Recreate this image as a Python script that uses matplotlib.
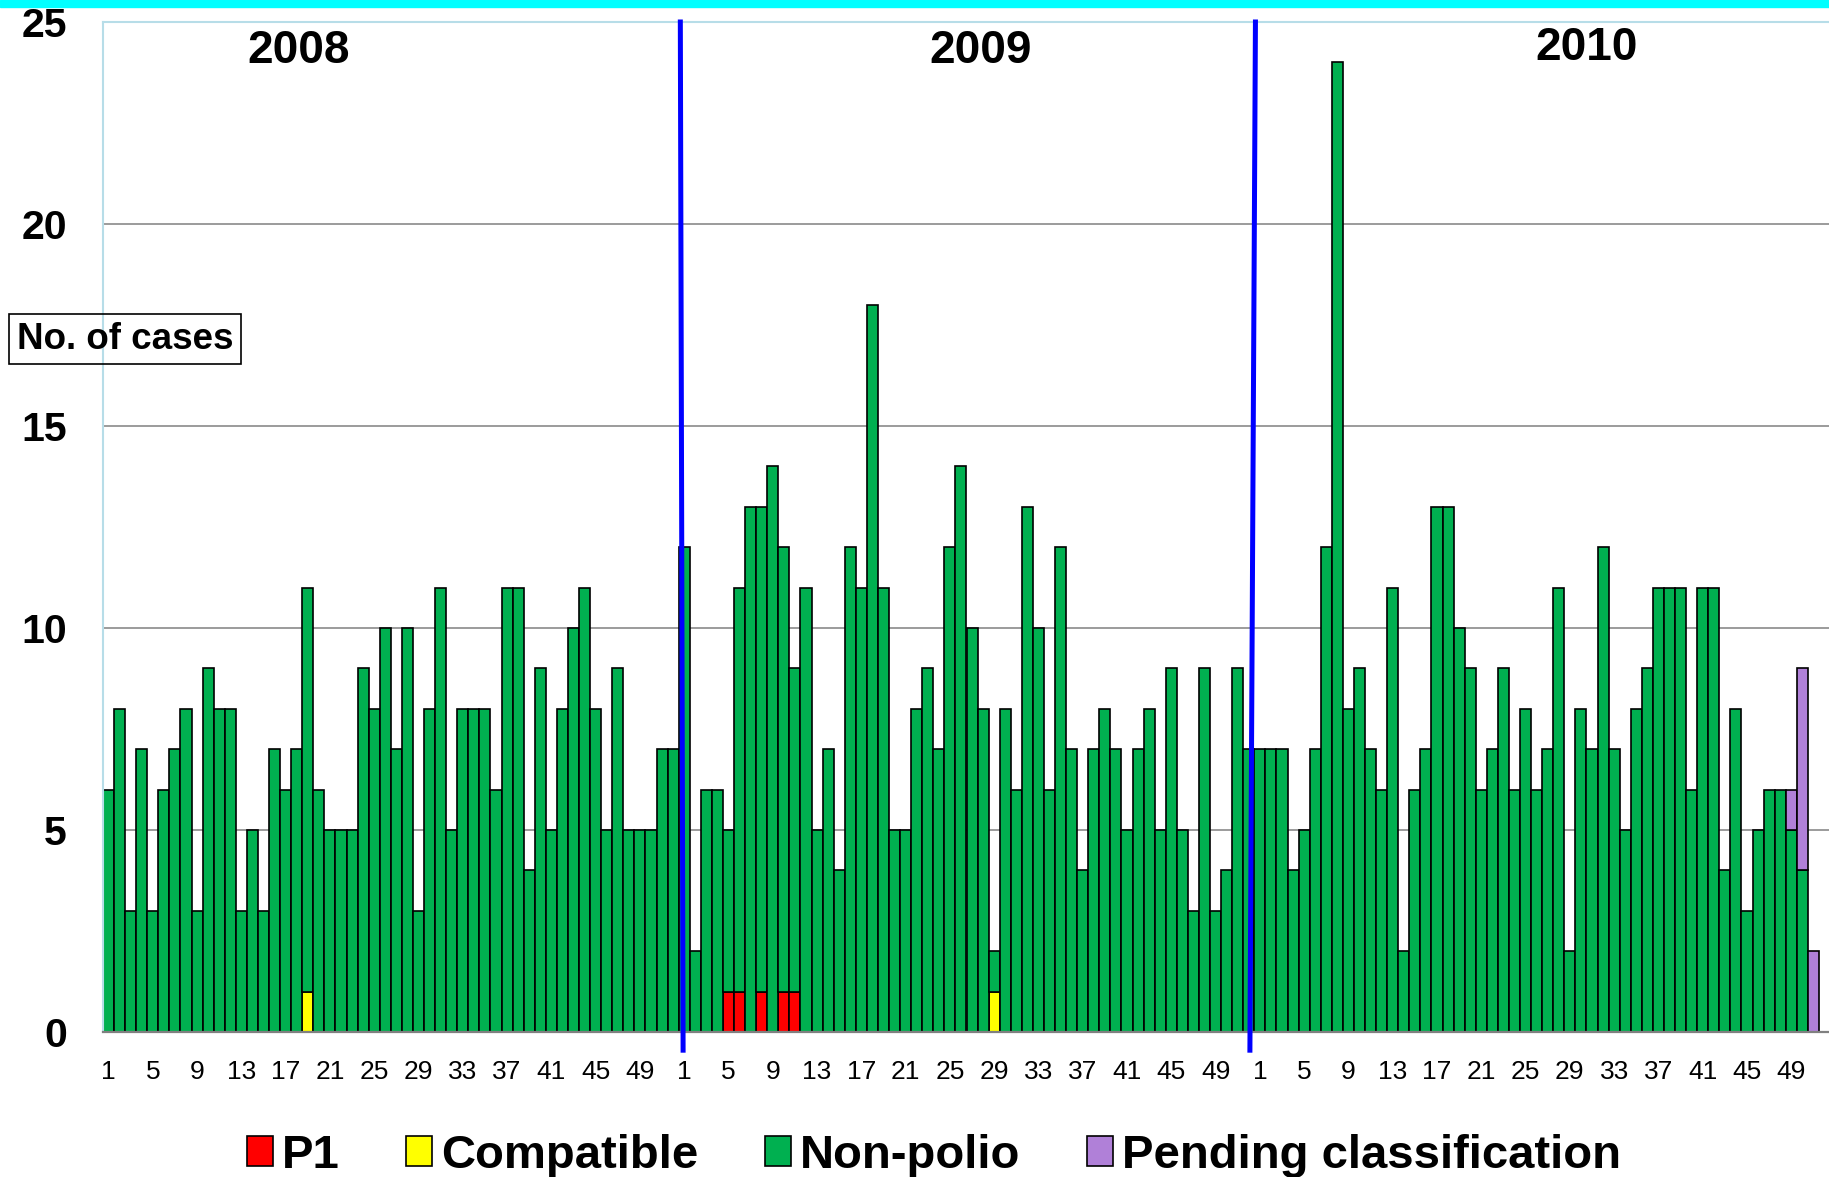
import numpy as np
import matplotlib.pyplot as plt
from matplotlib.patches import Rectangle

plt.rcParams['font.family'] = ['Liberation Sans', 'DejaVu Sans']

years = ['2008', '2009', '2010']
weeks_per_year = 52
week_ticks = [1, 5, 9, 13, 17, 21, 25, 29, 33, 37, 41, 45, 49]

# non-polio cases per epi week
nonpolio_2008 = [6, 8, 3, 7, 3, 6, 7, 8, 3, 9, 8, 8, 3, 5, 3, 7, 6, 7, 10, 6,
                 5, 5, 5, 9, 8, 10, 7, 10, 3, 8, 11, 5, 8, 8, 8, 6, 11, 11, 4, 9,
                 5, 8, 10, 11, 8, 5, 9, 5, 5, 5, 7, 7]
nonpolio_2009 = [12, 2, 6, 6, 4, 10, 13, 12, 14, 11, 8, 11, 5, 7, 4, 12, 11, 18, 11, 5,
                 5, 8, 9, 7, 12, 14, 10, 8, 1, 8, 6, 13, 10, 6, 12, 7, 4, 7, 8, 7,
                 5, 7, 8, 5, 9, 5, 3, 9, 3, 4, 9, 7]
nonpolio_2010 = [7, 7, 7, 4, 5, 7, 12, 24, 8, 9, 7, 6, 11, 2, 6, 7, 13, 13, 10, 9,
                 6, 7, 9, 6, 8, 6, 7, 11, 2, 8, 7, 12, 7, 5, 8, 9, 11, 11, 11, 6,
                 11, 11, 4, 8, 3, 5, 6, 6, 5, 4, 0]

# other classifications, week -> cases
p1_2009 = {5: 1, 6: 1, 8: 1, 10: 1, 11: 1}
compatible_2008 = {19: 1}
compatible_2009 = {29: 1}
pending_2010 = {49: 1, 50: 5, 51: 2}

n = weeks_per_year * len(years)
x = np.arange(n)


def year_series(per_year):
    out = np.zeros(n)
    for i, d in enumerate(per_year):
        for wk, v in d.items():
            out[i * weeks_per_year + wk - 1] = v
    return out


nonpolio = np.zeros(n)
for i, vals in enumerate([nonpolio_2008, nonpolio_2009, nonpolio_2010]):
    nonpolio[i * weeks_per_year:i * weeks_per_year + len(vals)] = vals
p1 = year_series([{}, p1_2009, {}])
compatible = year_series([compatible_2008, compatible_2009, {}])
pending = year_series([{}, {}, pending_2010])

fig = plt.figure(figsize=(18.29, 11.77), dpi=100)
ax = fig.add_axes([103 / 1829, 145 / 1177, 1727 / 1829, 1010 / 1177])

series = [
    ('P1', p1, '#FF0000'),
    ('Compatible', compatible, '#FFFF00'),
    ('Non-polio', nonpolio, '#00B050'),
    ('Pending classification', pending, '#B080D8'),
]
bottom = np.zeros(n)
handles = []
for label, vals, col in series:
    m = vals > 0
    b = ax.bar(x[m], vals[m], width=1.0, bottom=bottom[m], color=col,
               edgecolor='black', linewidth=1.2, label=label, zorder=2)
    handles.append(b)
    bottom = bottom + vals

# year separators
sep_top = [51.65, 103.6]
sep_bot = [51.9, 103.1]
for t, bt in zip(sep_top, sep_bot):
    ax.plot([t, bt], [25, -0.45], color='#0000FF', linewidth=3.6,
            clip_on=False, zorder=5)

ax.set_xlim(-0.5, n - 0.5)
ax.set_ylim(0, 25)
ax.set_yticks(range(0, 26, 5))
ax.set_yticklabels([str(v) for v in range(0, 26, 5)], fontsize=29.5,
                   fontweight='bold')
ax.tick_params(axis='y', length=0, pad=26)

tick_pos = [i * weeks_per_year + w - 1 for i in range(len(years)) for w in week_ticks]
tick_lab = [str(w) for i in range(len(years)) for w in week_ticks]
ax.set_xticks(tick_pos)
ax.set_xticklabels(tick_lab, fontsize=19)
ax.tick_params(axis='x', length=0, pad=20)

ax.yaxis.grid(True, color='#808080', linewidth=1.1)
ax.set_axisbelow(True)
ax.spines['right'].set_visible(False)
ax.spines['top'].set_color('#B7DDE8')
ax.spines['left'].set_color('#B7DDE8')
ax.spines['top'].set_linewidth(1.5)
ax.spines['left'].set_linewidth(1.5)
ax.spines['bottom'].set_color('#808080')
ax.spines['bottom'].set_linewidth(1.6)

year_x = [17.2, 78.8, 133.5]
year_y = [24.28, 24.28, 24.36]
for yr, xx, yy in zip(years, year_x, year_y):
    ax.text(xx, yy, yr, ha='center', va='center', fontsize=33,
            fontweight='bold')

fig.text(125 / 1829, 1 - 339 / 1177, 'No. of cases', ha='center', va='center',
         fontsize=26.5, fontweight='bold',
         bbox=dict(boxstyle='square,pad=0.2', fc='none', ec='black', lw=1.2))

fig.legend(handles, [s[0] for s in series], loc='center',
           bbox_to_anchor=(934 / 1829, 21 / 1177), ncol=4, frameon=False,
           prop=dict(weight='bold', size=34), handlelength=0.55,
           handleheight=0.6, handletextpad=0.2, columnspacing=1.4,
           borderpad=0, borderaxespad=0)

fig.patches.append(Rectangle((0, 1 - 7 / 1177), 1, 7 / 1177,
                             transform=fig.transFigure, color='#00FFFF',
                             zorder=10))

fig.savefig('out.png', dpi=100)
